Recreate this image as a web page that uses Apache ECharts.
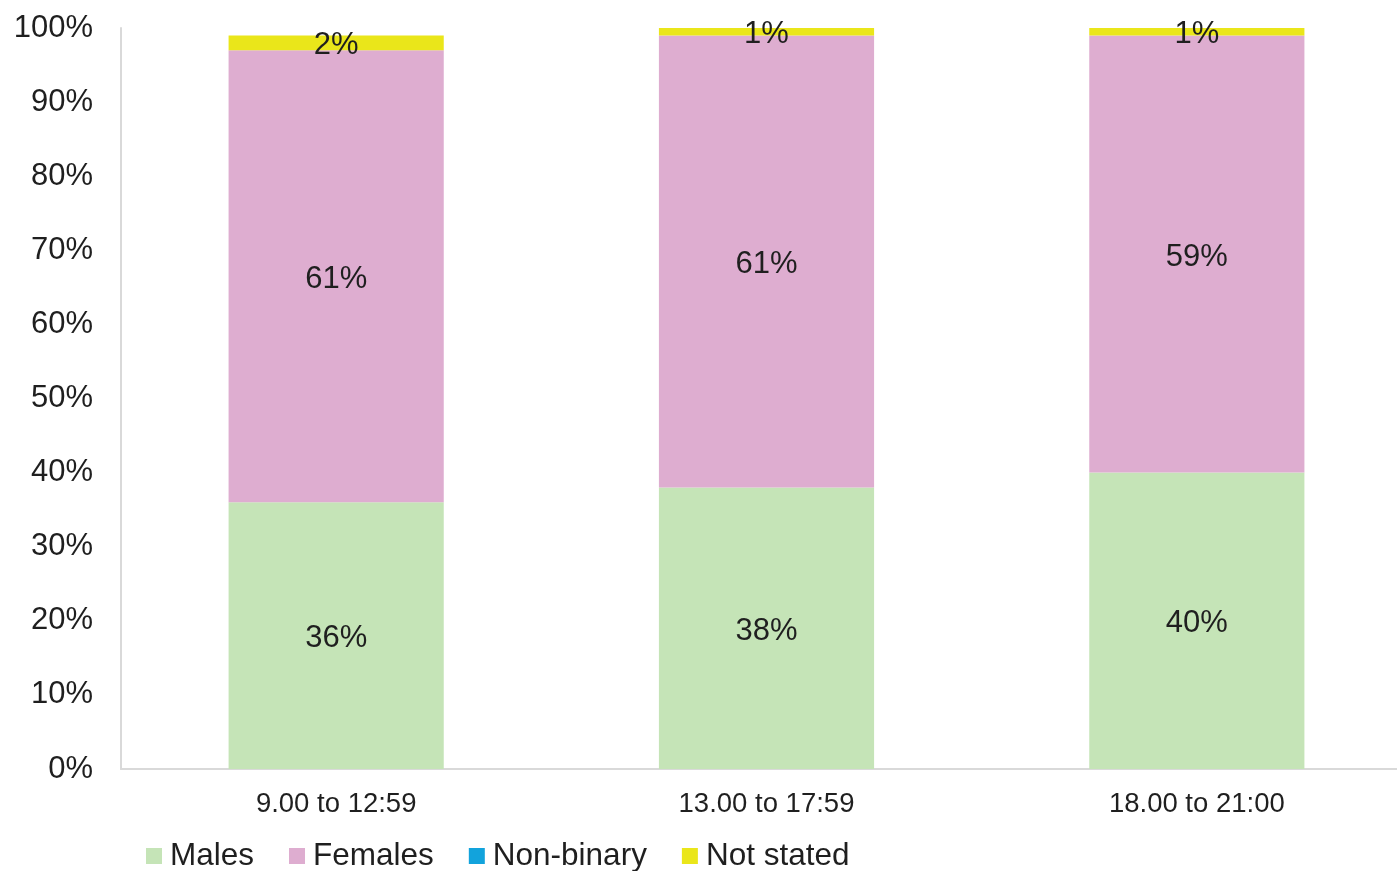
<!DOCTYPE html>
<html>
<head>
<meta charset="utf-8">
<script src="https://cdn.jsdelivr.net/npm/echarts@6/dist/echarts.min.js"></script>
<style>
  html, body { margin: 0; padding: 0; background: #fff; }
  #chart { width: 1397px; height: 871px; }
</style>
</head>
<body>
<div id="chart"></div>
<script>
// Time bands of the day
const categories = ['9.00 to 12:59', '13.00 to 17:59', '18.00 to 21:00'];

// Share of each gender group per time band (%)
const males = [36, 38, 40];
const females = [61, 61, 59];
const nonBinary = [0, 0, 0];
const notStated = [2, 1, 1];

const seriesNames = ['Males', 'Females', 'Non-binary', 'Not stated'];
const seriesColors = ['#c5e4b7', '#deadd0', '#12a3dc', '#eae61a'];
const seriesData = [males, females, nonBinary, notStated];

const FONT = '"Liberation Sans", Arial, sans-serif';
const TEXT = '#1f1f1f';

const chart = echarts.init(document.getElementById('chart'), null, { renderer: 'canvas' });

const series = seriesNames.map((name, i) => ({
  name: name,
  type: 'bar',
  stack: 'total',
  barWidth: '50%',
  data: seriesData[i],
  itemStyle: { color: seriesColors[i] },
  label: {
    show: true,
    position: 'inside',
    offset: [0, 3],
    fontFamily: FONT,
    fontSize: 31,
    color: TEXT,
    formatter: p => (p.value > 0 ? p.value + '%' : '')
  },
  emphasis: { disabled: true }
}));

chart.setOption({
  animation: false,
  backgroundColor: '#ffffff',
  // the plot runs a little past the right edge of the canvas
  grid: { left: 121, width: 1291, top: 28, bottom: 102, containLabel: false, outerBoundsMode: 'none' },
  legend: {
    data: seriesNames,
    left: 141,
    top: 835,
    itemWidth: 16,
    itemHeight: 16,
    itemGap: 35,
    icon: 'rect',
    textStyle: { fontFamily: FONT, fontSize: 31.5, color: TEXT, padding: [0, 0, 0, 3] }
  },
  xAxis: {
    type: 'category',
    data: categories,
    axisLine: { show: true, lineStyle: { color: '#d9d9d9', width: 2 } },
    axisTick: { show: false },
    axisLabel: { fontFamily: FONT, fontSize: 27.5, color: TEXT, margin: 21 }
  },
  yAxis: {
    type: 'value',
    min: 0,
    max: 100,
    interval: 10,
    axisLine: { show: true, lineStyle: { color: '#d9d9d9', width: 2 } },
    axisTick: { show: false },
    splitLine: { show: false },
    axisLabel: { fontFamily: FONT, fontSize: 31, color: TEXT, margin: 28, formatter: '{value}%' }
  },
  series: series
});
</script>
</body>
</html>
